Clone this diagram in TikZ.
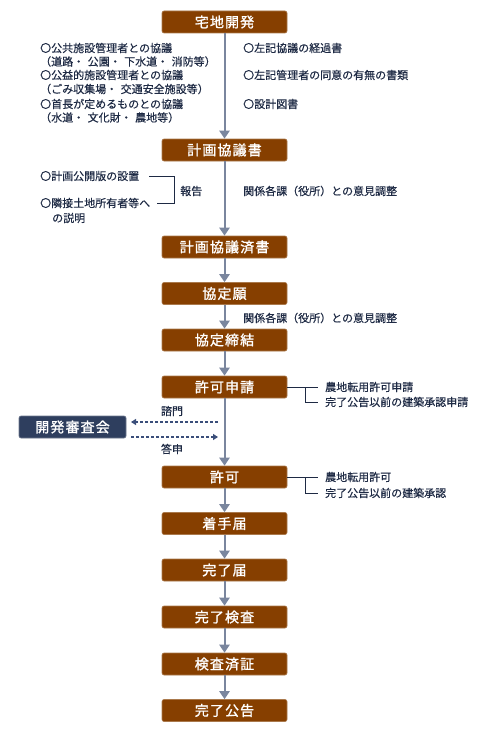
\documentclass[tikz,border=0pt]{standalone}
\usepackage{fontspec}
\setmainfont{Noto Sans CJK JP}
\usetikzlibrary{arrows.meta}
\definecolor{boxbrown}{HTML}{863F00}
\definecolor{boxnavy}{HTML}{2E3E5E}
\definecolor{arrgray}{HTML}{7A869E}
\definecolor{txtnavy}{HTML}{1E2A44}
\definecolor{dashnavy}{HTML}{3A4E7A}
\newcommand{\nsp}{\hspace{3.5pt}}
\tikzset{
  stepbox/.style={fill=boxbrown, draw=boxbrown!70!white, line width=0.6pt, rounded corners=2pt,
    minimum width=125pt, minimum height=22pt, inner sep=0pt, text=white,
    font=\fontsize{14}{14}\selectfont\addfontfeatures{LetterSpace=8,FakeBold=1.2}},
  navybox/.style={stepbox, fill=boxnavy, draw=boxnavy!70!white, minimum width=107pt},
  flow/.style={draw=arrgray, line width=2pt, -{Triangle[width=10pt,length=8pt]}},
  dasharr/.style={draw=dashnavy, line width=1.2pt, dash pattern=on 3pt off 2pt, -{Triangle[width=6pt,length=5pt]}},
  note/.style={anchor=west, inner sep=0pt, text=txtnavy, font=\fontsize{11}{11}\selectfont\addfontfeatures{FakeBold=0.4}},
  brk/.style={draw=txtnavy, line width=1pt}
}
\begin{document}
\begin{tikzpicture}[x=1pt,y=-1pt]
\useasboundingbox (0,0) rectangle (495,733);
% main boxes
\node[stepbox] (b1) at (224.5,22) {宅地開発};
\node[stepbox] (b2) at (224.5,150) {計画協議書};
\node[stepbox] (b3) at (224.5,247) {計画協議済書};
\node[stepbox] (b4) at (224.5,293.5) {協定願};
\node[stepbox] (b5) at (224.5,340) {協定締結};
\node[stepbox] (b6) at (224.5,387) {許可申請};
\node[stepbox] (b7) at (224.5,477) {許可};
\node[stepbox] (b8) at (224.5,523.5) {着手届};
\node[stepbox] (b9) at (224.5,570) {完了届};
\node[stepbox] (b10) at (224.5,617) {完了検査};
\node[stepbox] (b11) at (224.5,664) {検査済証};
\node[stepbox] (b12) at (224.5,710.5) {完了公告};
\node[navybox] (shin) at (72.5,427) {開発審査会};
% flow arrows
\foreach \a/\b in {b1/b2,b2/b3,b3/b4,b4/b5,b5/b6,b6/b7,b7/b8,b8/b9,b9/b10,b10/b11,b11/b12}
  \draw[flow] (\a.south) -- (\b.north);
% notes under 宅地開発
\node[note] (n1) at (40,48) {〇公共施設管理者との協議};
\node[note] (n2) at (40,61.5) {（道路・\nsp 公園・\nsp 下水道・\nsp 消防等）};
\node[note] (n3) at (40,75) {〇公益的施設管理者との協議};
\node[note] (n4) at (40,89) {（ごみ収集場・\nsp 交通安全施設等）};
\node[note] (n5) at (40,104) {〇首長が定めるものとの協議};
\node[note] (n6) at (40,117.5) {（水道・\nsp 文化財・\nsp 農地等）};
\node[note] (r1) at (243,48) {〇左記協議の経過書};
\node[note] (r2) at (243,75) {〇左記管理者の同意の有無の書類};
\node[note] (r3) at (243,104) {〇設計図書};
% notes under 計画協議書
\node[note] (p1) at (40,176) {〇計画公開版の設置};
\node[note] (p2) at (40,203) {〇隣接土地所有者等へ};
\node[note] (p3) at (52,218) {の説明};
\coordinate (k1) at (149,176);
\coordinate (k2) at (157,203);
\coordinate (kc) at (174,176);
\draw[brk] (k1) -- (kc) -- (kc |- k2) -- (k2);
\node[note] (hok) at (180,191) {報告};
\node[note] (c1) at (243,191) {関係各課（役所）との意見調整};
\node[note] (c2) at (243,318) {関係各課（役所）との意見調整};
% 許可申請 bracket
\coordinate (q1) at (305,387);
\draw[brk] (b6.east) -- (318,387);
\draw[brk] (q1) |- (318,402);
\node[note] (q1t) at (325,387) {農地転用許可申請};
\node[note] (q2t) at (325,402) {完了公告以前の建築承認申請};
% 許可 bracket
\coordinate (s1) at (305,477);
\draw[brk] (b7.east) -- (318,477);
\draw[brk] (s1) |- (318,493);
\node[note] (s1t) at (325,477) {農地転用許可};
\node[note] (s2t) at (325,493) {完了公告以前の建築承認};
% dashed arrows
\coordinate (d1) at (218,422);
\coordinate (d2) at (131,437);
\draw[dasharr] (d1) -- (d1 -| d2);
\draw[dasharr] (d2) -- (d2 -| d1);
\node[note, anchor=center] (shimon) at (172,411) {諮門};
\node[note, anchor=center] (toshin) at (172,449) {答申};
\end{tikzpicture}
\end{document}
